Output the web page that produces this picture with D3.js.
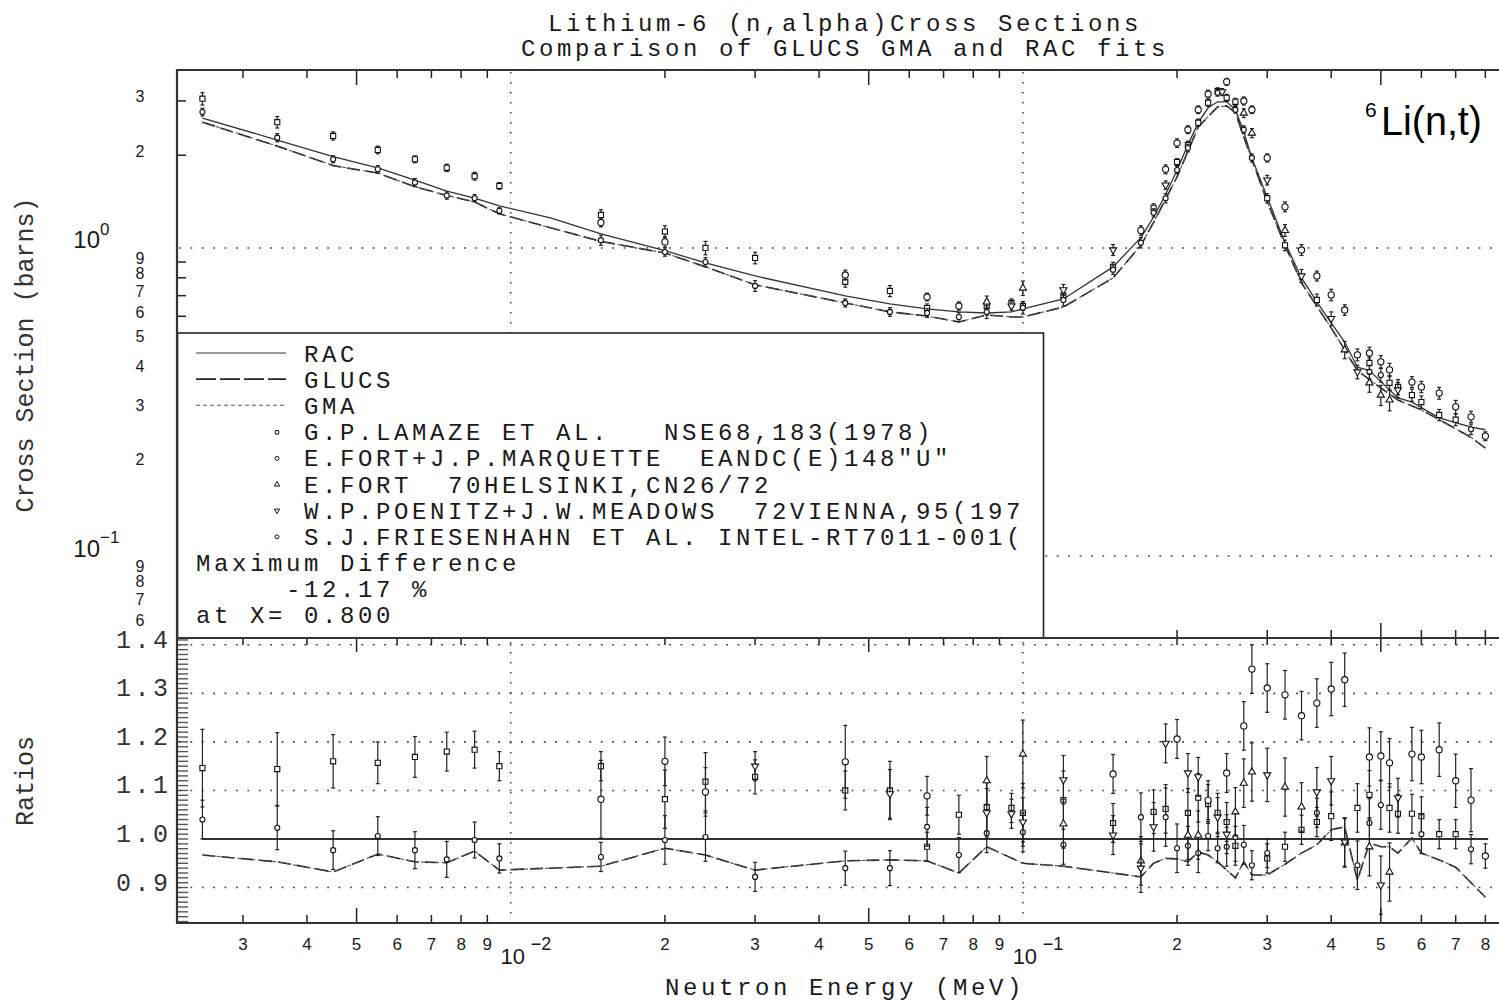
<!DOCTYPE html>
<html>
<head>
<meta charset="utf-8">
<script src="https://cdn.jsdelivr.net/npm/d3@7"></script>
<style>
  body { margin: 0; background: #fff; }
  svg { display: block; }
  text { white-space: pre; }
</style>
</head>
<body>
<div id="chart"></div>
<script>
// ---- fitted curves, top panel (energy MeV, cross section barns)
var racCurve = [[0.0025,2.64],[0.0035,2.24],[0.0045,1.98],[0.0055,1.82],[0.0065,1.66],[0.0075,1.53],[0.0085,1.45],[0.0095,1.37],[0.012,1.25],[0.015,1.11],[0.020,0.98],[0.024,0.894],[0.030,0.811],[0.045,0.699],[0.055,0.658],[0.065,0.634],[0.075,0.62],[0.085,0.615],[0.095,0.62],[0.10,0.634],[0.12,0.683],[0.15,0.868],[0.17,1.08],[0.18,1.26],[0.19,1.49],[0.20,1.79],[0.21,2.16],[0.22,2.55],[0.23,2.85],[0.24,2.98],[0.25,2.98],[0.26,2.81],[0.27,2.38],[0.28,1.96],[0.30,1.46],[0.325,1.04],[0.35,0.799],[0.375,0.668],[0.40,0.571],[0.425,0.495],[0.45,0.41],[0.475,0.40],[0.54,0.326],[0.575,0.316],[0.65,0.281],[0.75,0.262],[0.80,0.257]];
var glucsCurve = [[0.0025,2.56],[0.0035,2.14],[0.0045,1.85],[0.0055,1.75],[0.0065,1.58],[0.0075,1.48],[0.0085,1.41],[0.0095,1.29],[0.015,1.05],[0.020,0.963],[0.024,0.868],[0.030,0.759],[0.045,0.663],[0.055,0.62],[0.065,0.601],[0.075,0.575],[0.085,0.606],[0.095,0.597],[0.10,0.597],[0.12,0.643],[0.15,0.799],[0.17,1.02],[0.18,1.21],[0.20,1.70],[0.22,2.47],[0.24,2.87],[0.25,2.89],[0.26,2.75],[0.27,2.29],[0.30,1.41],[0.325,1.02],[0.35,0.77],[0.40,0.55],[0.45,0.40],[0.50,0.351],[0.54,0.321],[0.60,0.298],[0.65,0.277],[0.75,0.243],[0.80,0.224]];
var gmaCurve = [[0.0025,2.56],[0.0035,2.14],[0.0045,1.85],[0.0055,1.75],[0.0065,1.58],[0.0075,1.48],[0.0085,1.41],[0.0095,1.29],[0.015,1.05],[0.020,0.963],[0.024,0.868],[0.030,0.759],[0.045,0.663],[0.055,0.62],[0.065,0.601],[0.075,0.575],[0.085,0.606],[0.095,0.597],[0.10,0.597],[0.12,0.643],[0.15,0.799],[0.17,1.02],[0.18,1.21],[0.20,1.70],[0.22,2.47],[0.24,2.87],[0.25,2.89],[0.26,2.75],[0.27,2.29],[0.30,1.41],[0.325,1.02],[0.35,0.77],[0.40,0.55],[0.45,0.40],[0.50,0.351],[0.54,0.321],[0.60,0.298],[0.65,0.277],[0.75,0.243],[0.80,0.224]];

// ---- measurements, top panel: [energy, value, error]
var lamazeTop = [[0.0025,3.05,0.14],[0.0035,2.56,0.11],[0.0045,2.31,0.07],[0.0055,2.08,0.06],[0.0065,1.94,0.05],[0.0075,1.82,0.05],[0.0085,1.71,0.05],[0.0095,1.59,0.04],[0.015,1.28,0.05],[0.020,1.13,0.05],[0.024,1.00,0.05],[0.030,0.928,0.04],[0.045,0.776,0.03],[0.055,0.725,0.03],[0.065,0.638,0.02],[0.085,0.648,0.03],[0.095,0.663,0.02],[0.10,0.648,0.02],[0.12,0.70,0.03],[0.15,0.868,0.03],[0.18,1.35,0.04],[0.20,1.90,0.05],[0.21,2.16,0.06],[0.22,2.55,0.07],[0.23,2.96,0.08],[0.24,3.23,0.08],[0.25,3.07,0.08],[0.26,2.98,0.08],[0.30,1.45,0.05],[0.325,1.02,0.04],[0.375,0.678,0.03],[0.475,0.423,0.02],[0.52,0.365,0.02],[0.54,0.354,0.02],[0.575,0.333,0.015],[0.60,0.316,0.015],[0.65,0.287,0.012],[0.70,0.277,0.012]];
var fortMarqTop = [[0.0025,2.76,0.08],[0.0035,2.28,0.07],[0.0045,1.94,0.05],[0.0055,1.80,0.05],[0.0065,1.63,0.05],[0.0075,1.48,0.04],[0.0085,1.45,0.04],[0.0095,1.32,0.03],[0.015,1.06,0.04],[0.020,0.97,0.03],[0.024,0.90,0.03],[0.030,0.753,0.03],[0.045,0.663,0.02],[0.055,0.62,0.02],[0.065,0.615,0.02],[0.075,0.597,0.02],[0.085,0.62,0.03],[0.10,0.64,0.03],[0.12,0.678,0.03],[0.15,0.85,0.03],[0.17,1.04,0.04],[0.18,1.30,0.04],[0.19,1.45,0.05],[0.20,1.79,0.05],[0.21,2.11,0.06],[0.24,3.19,0.08],[0.26,2.81,0.07],[0.27,2.42,0.07],[0.28,1.96,0.06],[0.475,0.396,0.02],[0.50,0.387,0.02],[0.75,0.258,0.01]];
var fortTop = [[0.085,0.668,0.03],[0.10,0.741,0.04],[0.27,2.74,0.09],[0.28,2.36,0.08],[0.325,1.14,0.05],[0.425,0.467,0.03],[0.475,0.365,0.025],[0.50,0.333,0.025],[0.52,0.321,0.025]];
var poenitzTop = [[0.095,0.648,0.02],[0.12,0.731,0.03],[0.15,0.985,0.04],[0.19,1.60,0.05],[0.245,3.21,0.08],[0.30,1.66,0.06],[0.35,0.811,0.04],[0.40,0.59,0.03],[0.45,0.396,0.02],[0.54,0.346,0.02]];
var friesTop = [[0.015,1.21,0.04],[0.020,1.046,0.04],[0.045,0.817,0.03],[0.065,0.693,0.02],[0.075,0.648,0.02],[0.17,1.14,0.04],[0.19,1.80,0.06],[0.20,2.19,0.07],[0.21,2.42,0.07],[0.22,2.81,0.08],[0.23,3.16,0.09],[0.25,3.46,0.09],[0.27,3.00,0.09],[0.28,2.81,0.08],[0.30,1.96,0.06],[0.325,1.36,0.05],[0.35,0.985,0.04],[0.375,0.811,0.03],[0.40,0.704,0.03],[0.425,0.629,0.025],[0.45,0.45,0.02],[0.475,0.456,0.02],[0.50,0.427,0.02],[0.52,0.402,0.02],[0.575,0.367,0.015],[0.60,0.354,0.015],[0.65,0.338,0.015],[0.70,0.305,0.015],[0.75,0.283,0.012],[0.80,0.245,0.008]];

// ---- ratios to RAC, bottom panel
var racRatio = [[0.0025,1.0],[0.81,1.0]];
var glucsRatio = [[0.0025,0.967],[0.0035,0.953],[0.0045,0.932],[0.0055,0.969],[0.0065,0.953],[0.0075,0.951],[0.0085,0.975],[0.0095,0.936],[0.015,0.944],[0.020,0.981],[0.024,0.967],[0.030,0.936],[0.045,0.955],[0.055,0.957],[0.065,0.955],[0.075,0.93],[0.085,0.984],[0.10,0.95],[0.12,0.944],[0.17,0.922],[0.18,0.95],[0.19,0.96],[0.20,0.959],[0.21,0.953],[0.22,0.973],[0.23,0.967],[0.24,0.953],[0.25,0.936],[0.26,0.92],[0.27,0.953],[0.28,0.926],[0.30,0.926],[0.325,0.948],[0.35,0.971],[0.375,0.988],[0.40,1.019],[0.425,1.025],[0.45,0.915],[0.475,0.992],[0.50,0.984],[0.52,0.984],[0.54,0.971],[0.575,1.002],[0.60,0.971],[0.65,0.957],[0.70,0.942],[0.80,0.88]];
var gmaRatio = [[0.0025,0.967],[0.0035,0.953],[0.0045,0.932],[0.0055,0.969],[0.0065,0.953],[0.0075,0.951],[0.0085,0.975],[0.0095,0.936],[0.015,0.944],[0.020,0.981],[0.024,0.967],[0.030,0.936],[0.045,0.955],[0.055,0.957],[0.065,0.955],[0.075,0.93],[0.085,0.984],[0.10,0.95],[0.12,0.944],[0.17,0.922],[0.18,0.95],[0.19,0.96],[0.20,0.959],[0.21,0.953],[0.22,0.973],[0.23,0.967],[0.24,0.953],[0.25,0.936],[0.26,0.92],[0.27,0.953],[0.28,0.926],[0.30,0.926],[0.325,0.948],[0.35,0.971],[0.375,0.988],[0.40,1.019],[0.425,1.025],[0.45,0.915],[0.475,0.992],[0.50,0.984],[0.52,0.984],[0.54,0.971],[0.575,1.002],[0.60,0.971],[0.65,0.957],[0.70,0.942],[0.80,0.88]];
var lamazeRatio = [[0.0025,1.146,0.08],[0.0035,1.144,0.075],[0.0045,1.16,0.055],[0.0055,1.157,0.043],[0.0065,1.169,0.042],[0.0075,1.18,0.04],[0.0085,1.184,0.038],[0.0095,1.15,0.03],[0.015,1.15,0.03],[0.020,1.082,0.06],[0.024,1.118,0.06],[0.030,1.128,0.035],[0.045,1.10,0.04],[0.055,1.10,0.06],[0.065,0.984,0.03],[0.075,1.05,0.04],[0.085,1.066,0.05],[0.095,1.064,0.03],[0.10,1.054,0.06],[0.12,1.08,0.06],[0.15,1.033,0.04],[0.18,1.056,0.045],[0.19,1.062,0.05],[0.21,1.054,0.05],[0.22,1.085,0.05],[0.23,1.072,0.04],[0.24,1.054,0.04],[0.25,1.035,0.04],[0.26,0.986,0.04],[0.30,0.96,0.03],[0.325,0.984,0.03],[0.35,1.019,0.03],[0.375,1.035,0.03],[0.40,1.047,0.05],[0.45,1.064,0.05],[0.475,1.091,0.05],[0.52,1.064,0.05],[0.54,1.052,0.04],[0.575,1.052,0.04],[0.60,1.047,0.04],[0.65,1.01,0.03],[0.70,1.01,0.03]];
var fortMarqRatio = [[0.0025,1.04,0.04],[0.0035,1.023,0.045],[0.0045,0.977,0.04],[0.0055,1.006,0.04],[0.0065,0.977,0.038],[0.0075,0.958,0.037],[0.0085,0.998,0.037],[0.0095,0.96,0.03],[0.015,0.963,0.03],[0.020,0.998,0.05],[0.024,1.004,0.05],[0.030,0.922,0.03],[0.045,0.94,0.035],[0.055,0.94,0.036],[0.065,1.025,0.04],[0.075,0.967,0.036],[0.085,1.012,0.04],[0.10,1.014,0.04],[0.12,0.988,0.04],[0.17,1.045,0.05],[0.19,1.045,0.06],[0.20,0.981,0.05],[0.21,0.986,0.04],[0.22,0.971,0.04],[0.23,1.006,0.03],[0.24,0.981,0.03],[0.25,0.984,0.04],[0.26,1.004,0.05],[0.27,0.988,0.04],[0.28,0.946,0.03],[0.30,0.971,0.03],[0.375,1.054,0.03],[0.45,0.946,0.05],[0.475,1.033,0.05],[0.50,1.07,0.05],[0.60,1.01,0.04],[0.75,0.979,0.03]];
var fortRatio = [[0.085,1.12,0.05],[0.10,1.175,0.07],[0.12,1.031,0.05],[0.17,0.955,0.05],[0.21,1.008,0.05],[0.22,1.008,0.05],[0.26,1.056,0.05],[0.27,1.115,0.05],[0.28,1.138,0.06],[0.325,1.107,0.06],[0.35,1.066,0.05],[0.425,0.992,0.05],[0.475,0.984,0.06],[0.52,0.932,0.06]];
var poenitzRatio = [[0.030,1.15,0.03],[0.055,1.093,0.05],[0.085,1.054,0.05],[0.095,1.052,0.03],[0.10,1.035,0.05],[0.12,1.122,0.05],[0.15,1.008,0.04],[0.17,0.94,0.05],[0.18,1.025,0.05],[0.19,1.197,0.04],[0.21,1.136,0.04],[0.22,1.128,0.04],[0.24,1.045,0.04],[0.25,1.01,0.04],[0.30,1.132,0.055],[0.375,1.097,0.05],[0.40,1.12,0.05],[0.425,0.994,0.05],[0.50,0.905,0.06],[0.54,1.085,0.04]];
var friesRatio = [[0.015,1.082,0.08],[0.020,1.16,0.05],[0.024,1.097,0.05],[0.045,1.159,0.075],[0.065,1.089,0.04],[0.15,1.134,0.04],[0.20,1.206,0.04],[0.23,1.08,0.04],[0.25,1.136,0.04],[0.27,1.233,0.05],[0.28,1.35,0.05],[0.30,1.311,0.05],[0.325,1.297,0.05],[0.35,1.254,0.05],[0.375,1.28,0.05],[0.40,1.309,0.055],[0.425,1.328,0.055],[0.475,1.169,0.06],[0.50,1.171,0.05],[0.52,1.157,0.05],[0.575,1.175,0.055],[0.60,1.169,0.055],[0.65,1.184,0.055],[0.70,1.12,0.055],[0.75,1.08,0.065],[0.80,0.965,0.025]];

// ---- texts
var titleLines = ["Lithium-6 (n,alpha)Cross Sections", "Comparison of GLUCS GMA and RAC fits"];
var curveNames = ["RAC", "GLUCS", "GMA"];
var setNames = ["G.P.LAMAZE ET AL.   NSE68,183(1978)", "E.FORT+J.P.MARQUETTE  EANDC(E)148\"U\"", "E.FORT  70HELSINKI,CN26/72", "W.P.POENITZ+J.W.MEADOWS  72VIENNA,95(197", "S.J.FRIESENHAHN ET AL. INTEL-RT7011-001("];
var diffLines = ["Maximum Difference", "     -12.17 %", "at X= 0.800"];
var ratioTicks = [1.4, 1.3, 1.2, 1.1, 1.0, 0.9];

var W = 1499, H = 1003;
var mono = "'Liberation Mono', 'DejaVu Sans Mono', monospace";
var sans = "'Liberation Sans', Arial, sans-serif";
var ink = "#1a1a1a";
var monoSize = 24, monoGap = 18 - 0.6 * 24;   // 18 px per character cell

var x = d3.scaleLog().domain([0.00223, 1.0]).range([177, 1535]);
var yTop = d3.scaleLog().domain([0.0542, 3.78]).range([638, 70]);
var yRat = d3.scaleLinear().domain([0.827, 1.414]).range([923, 638]);

var svg = d3.select("#chart").append("svg")
  .attr("width", W).attr("height", H)
  .style("background", "#fff");

var defs = svg.append("defs");
defs.append("clipPath").attr("id", "clipTop").append("rect")
  .attr("x", 177).attr("y", 70).attr("width", W - 177).attr("height", 568);
defs.append("clipPath").attr("id", "clipBot").append("rect")
  .attr("x", 177).attr("y", 638).attr("width", W - 177).attr("height", 285);

function mant(v) {
  return Math.round(v / Math.pow(10, Math.floor(Math.log10(v) + 1e-9)));
}
var xMinor = x.ticks().filter(function(v) { return mant(v) != 1; });
var xDecades = x.ticks().filter(function(v) { return mant(v) == 1 && v > 0.002; });

// dotted grid
var grid = svg.append("g").attr("stroke", "#444").attr("stroke-width", 1.6).attr("fill", "none");
[0.01, 0.1].forEach(function(v) {
  grid.append("line").attr("x1", x(v)).attr("x2", x(v)).attr("y1", 72).attr("y2", 922)
    .attr("stroke-dasharray", "1.6,8.4");
});
[1, 0.1].forEach(function(v) {
  grid.append("line").attr("x1", 179).attr("x2", W).attr("y1", yTop(v)).attr("y2", yTop(v))
    .attr("stroke-dasharray", "1.8,9.6");
});
[1.4, 1.3, 1.2, 1.1, 0.9].forEach(function(v) {
  grid.append("line").attr("x1", 179).attr("x2", W).attr("y1", yRat(v)).attr("y2", yRat(v))
    .attr("stroke-dasharray", "1.8,9.6");
});

// x ticks on all four horizontal edges
var ticks = svg.append("g").attr("stroke", "#222").attr("stroke-width", 1.5);
function tickLen(v) { return mant(v) == 5 ? 15 : 8; }
xMinor.forEach(function(v) {
  var px = x(v);
  ticks.append("line").attr("x1", px).attr("x2", px).attr("y1", 70).attr("y2", 70 + tickLen(v));
  ticks.append("line").attr("x1", px).attr("x2", px).attr("y1", 638).attr("y2", 638 - tickLen(v));
  ticks.append("line").attr("x1", px).attr("x2", px).attr("y1", 638).attr("y2", 638 + tickLen(v) - 1);
  ticks.append("line").attr("x1", px).attr("x2", px).attr("y1", 923).attr("y2", 923 - tickLen(v));
});
// y ticks, top panel
yTop.ticks().filter(function(v) { return mant(v) != 1; }).forEach(function(v) {
  ticks.append("line").attr("x1", 177).attr("x2", 186).attr("y1", yTop(v)).attr("y2", yTop(v));
});
// y ticks, ratio panel, every 0.01
d3.range(83, 142).forEach(function(k) {
  var yy = yRat(k / 100);
  svg.append("line").attr("x1", 177).attr("x2", 188).attr("y1", yy).attr("y2", yy)
    .attr("stroke", "#555").attr("stroke-width", 1.4);
});

// curves
var lineTop = d3.line().x(function(d) { return x(d[0]); }).y(function(d) { return yTop(d[1]); });
var lineRat = d3.line().x(function(d) { return x(d[0]); }).y(function(d) { return yRat(d[1]); });
var curveStyles = [
  { dash: null, width: 1.3, color: "#333" },
  { dash: "13,6", width: 1.6, color: "#222" },
  { dash: "4,3", width: 1.1, color: "#555" }
];

var topG = svg.append("g").attr("clip-path", "url(#clipTop)");
var botG = svg.append("g").attr("clip-path", "url(#clipBot)");

[racCurve, glucsCurve, gmaCurve].forEach(function(c, i) {
  var s = curveStyles[i];
  topG.append("path").datum(c).attr("d", lineTop).attr("fill", "none")
    .attr("stroke", s.color).attr("stroke-width", s.width)
    .attr("stroke-dasharray", s.dash);
});
[racRatio, glucsRatio, gmaRatio].forEach(function(c, i) {
  var s = curveStyles[i];
  botG.append("path").datum(c).attr("d", lineRat).attr("fill", "none")
    .attr("stroke", s.color).attr("stroke-width", i == 0 ? 2 : s.width)
    .attr("stroke-dasharray", s.dash);
});

// measurement sets
var symbols = [
  { type: d3.symbolSquare, size: 26, rot: 0 },
  { type: d3.symbolCircle, size: 20, rot: 0 },
  { type: d3.symbolTriangle, size: 22, rot: 0 },
  { type: d3.symbolTriangle, size: 22, rot: 180 },
  { type: d3.symbolCircle, size: 30, rot: 0 }
];

function drawSet(parent, data, yScale, sym) {
  var g = parent.append("g");
  var bars = g.append("g").attr("stroke", "#222").attr("stroke-width", 1.2);
  data.forEach(function(d) {
    var px = x(d[0]), lo = yScale(d[1] - d[2]), hi = yScale(d[1] + d[2]);
    bars.append("line").attr("x1", px).attr("x2", px).attr("y1", lo).attr("y2", hi);
    bars.append("line").attr("x1", px - 2).attr("x2", px + 2).attr("y1", lo).attr("y2", lo);
    bars.append("line").attr("x1", px - 2).attr("x2", px + 2).attr("y1", hi).attr("y2", hi);
  });
  g.selectAll("path").data(data).enter().append("path")
    .attr("d", d3.symbol().type(sym.type).size(sym.size))
    .attr("transform", function(d) {
      return "translate(" + x(d[0]) + "," + yScale(d[1]) + ") rotate(" + sym.rot + ")";
    })
    .attr("fill", "#fff").attr("stroke", "#111").attr("stroke-width", 1.1);
}

[lamazeTop, fortMarqTop, fortTop, poenitzTop, friesTop].forEach(function(set, i) {
  drawSet(topG, set, yTop, symbols[i]);
});
[lamazeRatio, fortMarqRatio, fortRatio, poenitzRatio, friesRatio].forEach(function(set, i) {
  drawSet(botG, set, yRat, symbols[i]);
});

// legend box (covers lower left of the top panel)
var leg = svg.append("g");
leg.append("rect").attr("x", 177.5).attr("y", 333).attr("width", 866).attr("height", 305)
  .attr("fill", "#fff").attr("stroke", "#222").attr("stroke-width", 1.6);

function monoText(g, str, px, py) {
  return g.append("text").attr("x", px).attr("y", py)
    .attr("xml:space", "preserve")
    .style("font-family", mono).style("font-size", monoSize + "px")
    .style("letter-spacing", monoGap + "px")
    .attr("fill", ink).text(str);
}

var rowY = function(i) { return 362 + i * 26.1; };
curveNames.forEach(function(n, i) {
  var s = curveStyles[i];
  leg.append("line").attr("x1", 196).attr("x2", 286).attr("y1", rowY(i) - 9).attr("y2", rowY(i) - 9)
    .attr("stroke", i == 0 ? "#777" : s.color).attr("stroke-width", s.width)
    .attr("stroke-dasharray", i == 1 ? "20,4" : s.dash);
  monoText(leg, n, 304, rowY(i));
});
setNames.forEach(function(n, i) {
  var sym = symbols[i];
  leg.append("path").attr("d", d3.symbol().type(sym.type).size(12))
    .attr("transform", "translate(277," + (rowY(i + 3) - 8) + ") rotate(" + sym.rot + ")")
    .attr("fill", "#fff").attr("stroke", "#111").attr("stroke-width", 1);
  monoText(leg, n, 304, rowY(i + 3));
});
diffLines.forEach(function(n, i) {
  monoText(leg, n, 196, rowY(i + 8));
});

// frames
var frame = svg.append("g").attr("stroke", "#333").attr("stroke-width", 2.2);
frame.append("line").attr("x1", 176).attr("x2", W).attr("y1", 70).attr("y2", 70);
frame.append("line").attr("x1", 176).attr("x2", W).attr("y1", 638).attr("y2", 638);
frame.append("line").attr("x1", 176).attr("x2", W).attr("y1", 923).attr("y2", 923);
frame.append("line").attr("x1", 177).attr("x2", 177).attr("y1", 69).attr("y2", 924);

// title
titleLines.forEach(function(t, i) {
  monoText(svg, t, 845 - t.length * 9, 31 + i * 25);
});

// axis titles
monoText(svg, "Neutron Energy (MeV)", 665, 995);
svg.append("text").attr("transform", "translate(33,355) rotate(-90)")
  .attr("text-anchor", "middle").style("font-family", mono).style("font-size", "25px")
  .attr("fill", "#333").text("Cross Section (barns)");
svg.append("text").attr("transform", "translate(33,781) rotate(-90)")
  .attr("text-anchor", "middle").style("font-family", mono).style("font-size", "25px")
  .attr("fill", "#333").text("Ratios");

// y labels, top panel
var labG = svg.append("g").style("font-family", sans).attr("fill", ink);
yTop.ticks().forEach(function(v) {
  var m = mant(v);
  if (m != 1) {
    labG.append("text").attr("x", 140).attr("y", yTop(v) + 1.5).attr("text-anchor", "middle")
      .style("font-size", "16px").text(m);
  } else {
    var e = Math.round(Math.log10(v));
    labG.append("text").attr("x", 100).attr("y", yTop(v) + 0.5).attr("text-anchor", "end")
      .style("font-size", "24px").text("10");
    labG.append("text").attr("x", 100).attr("y", yTop(v) - 13)
      .style("font-size", "17px").text(e == 0 ? "0" : "\u2212" + (-e));
  }
});

// y labels, ratio panel
ratioTicks.forEach(function(v) {
  svg.append("text").attr("x", 116).attr("y", yRat(v) + 3)
    .attr("textLength", 52).attr("lengthAdjust", "spacing")
    .style("font-family", mono).style("font-size", "25px").attr("fill", "#333")
    .text(v.toFixed(1));
});

// x labels (only those inside the picture)
xMinor.filter(function(v) { return x(v) < W - 8; }).forEach(function(v) {
  labG.append("text").attr("x", x(v)).attr("y", 950).attr("text-anchor", "middle")
    .style("font-size", "17px").text(mant(v));
});
xDecades.filter(function(v) { return x(v) < W - 40; }).forEach(function(v) {
  var e = Math.round(Math.log10(v));
  labG.append("text").attr("x", x(v) + 2).attr("y", 964).attr("text-anchor", "middle")
    .style("font-size", "22px").text("10");
  labG.append("text").attr("x", x(v) + 20).attr("y", 950)
    .style("font-size", "18px").text("\u2212" + (-e));
});

// reaction label
svg.append("text").attr("x", 1365).attr("y", 117)
  .style("font-family", sans).style("font-size", "21px").attr("fill", "#000").text("6");
svg.append("text").attr("x", 1381).attr("y", 135)
  .attr("textLength", 101).attr("lengthAdjust", "spacingAndGlyphs")
  .style("font-family", sans).style("font-size", "41px").attr("fill", "#000").text("Li(n,t)");
</script>
</body>
</html>
